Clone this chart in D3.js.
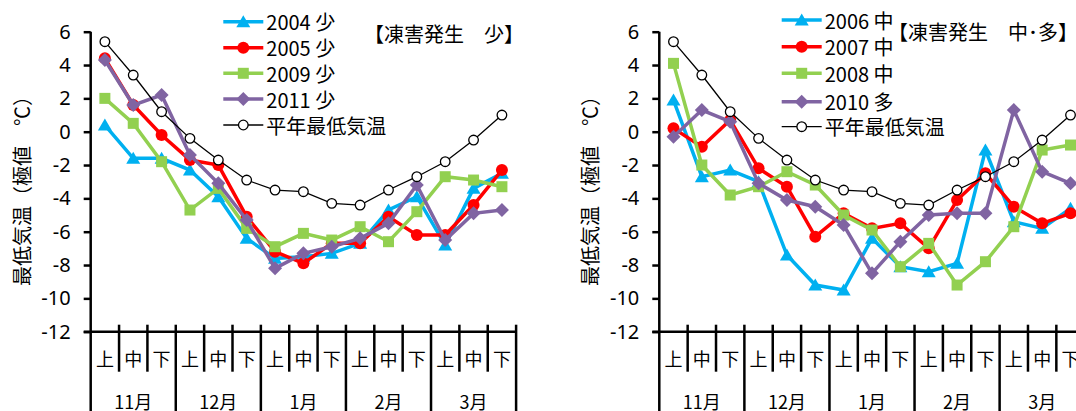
<!DOCTYPE html>
<head>
  <meta charset="utf-8">
  <script src="https://d3js.org/d3.v7.min.js"></script>
  <style>
    body { margin:0; padding:0; background:#fff; }
    text { font-family: "Noto Sans CJK JP", "Noto Sans", sans-serif; fill:#000; }
  </style>
</head>
<body>
  <svg id="chart" width="1076" height="411"></svg>
  <script>
    // categories
    var months = ["11月", "12月", "1月", "2月", "3月"];
    var thirds = ["上", "中", "下"];
    var yTicks = [-12, -10, -8, -6, -4, -2, 0, 2, 4, 6];

    // 平年最低気温
    var normal = [5.4, 3.4, 1.2, -0.4, -1.7, -2.9, -3.5, -3.6, -4.3, -4.4, -3.5, -2.7, -1.8, -0.5, 1.0];

    // left panel: 凍害発生 少
    var y2004 = [0.4, -1.6, -1.6, -2.3, -3.9, -6.4, -7.6, -7.5, -7.3, -6.7, -4.7, -3.9, -6.8, -3.4, -2.5];
    var y2005 = [4.4, 1.6, -0.2, -1.7, -2.0, -5.1, -7.2, -7.9, -6.7, -6.7, -5.1, -6.2, -6.2, -4.4, -2.3];
    var y2009 = [2.0, 0.5, -1.8, -4.7, -3.4, -5.8, -6.9, -6.1, -6.5, -5.7, -6.6, -4.8, -2.7, -2.9, -3.3];
    var y2011 = [4.3, 1.6, 2.2, -1.4, -3.1, -5.3, -8.2, -7.3, -6.9, -6.4, -5.5, -3.2, -6.5, -4.9, -4.7];

    // right panel: 凍害発生 中・多
    var y2006 = [1.9, -2.7, -2.3, -3.0, -7.4, -9.2, -9.5, -6.4, -8.1, -8.4, -7.9, -1.1, -5.4, -5.8, -4.6];
    var y2007 = [0.2, -0.9, 0.7, -2.2, -3.3, -6.3, -4.9, -5.8, -5.5, -7.0, -4.1, -2.5, -4.5, -5.5, -4.9];
    var y2008 = [4.1, -2.0, -3.8, -3.3, -2.4, -3.2, -5.0, -5.9, -8.1, -6.7, -9.2, -7.8, -5.7, -1.1, -0.8];
    var y2010 = [-0.3, 1.3, 0.6, -3.1, -4.1, -4.5, -5.6, -8.5, -6.6, -5.0, -4.9, -4.9, 1.3, -2.4, -3.1];

    var svg = d3.select("#chart");
    var bw = 28.36;
    var y = d3.scaleLinear().domain([-12, 6]).range([331.7, 31.7]);

    // marker shapes, centred on their box like Excel does
    function markerPath(type) {
      if (type == "triangle") return "M0,-6.5L7,5.5L-7,5.5Z";
      if (type == "square") return "M-5.5,-5.5H5.5V5.5H-5.5Z";
      if (type == "diamond") return "M0,-7L7,0L0,7L-7,0Z";
      return d3.arc()({innerRadius: 0, outerRadius: 6, startAngle: 0, endAngle: 2 * Math.PI});
    }

    function drawPanel(ox, series, legX, titleX, titleY, title) {
      var cats = d3.range(15).map(function(i) { return months[Math.floor(i / 3)] + thirds[i % 3]; });
      var x = d3.scaleBand().domain(cats).range([ox, ox + 15 * bw]);
      var g = svg.append("g");

      // y axis
      var ya = g.append("g").attr("transform", "translate(" + ox + ",0)")
        .call(d3.axisLeft(y).tickValues(yTicks).tickSize(7).tickPadding(13)
          .tickFormat(function(d) { return String(d); }));
      ya.select(".domain").remove();
      ya.selectAll("line").attr("stroke", "#000").attr("stroke-width", 2.5);
      ya.selectAll("text").style("font-family", "'Noto Sans', sans-serif").style("font-size", "20px");

      g.append("line").attr("x1", ox).attr("x2", ox).attr("y1", y(6)).attr("y2", 411)
        .attr("stroke", "#000").attr("stroke-width", 2.5);
      g.append("line").attr("x1", ox - 7).attr("x2", ox + 15 * bw).attr("y1", y(-12)).attr("y2", y(-12))
        .attr("stroke", "#000").attr("stroke-width", 2.5);

      // category separators
      g.selectAll(".sep").data(d3.range(1, 16)).enter().append("line")
        .attr("x1", function(i) { return ox + i * bw; })
        .attr("x2", function(i) { return ox + i * bw; })
        .attr("y1", y(-12) - 7)
        .attr("y2", function(i) { return i % 3 == 0 ? 411 : 371.7; })
        .attr("stroke", "#000").attr("stroke-width", 2.5);

      g.selectAll(".sub").data(cats).enter().append("text")
        .attr("x", function(c) { return x(c) + bw / 2; })
        .attr("y", 357.7).attr("text-anchor", "middle").attr("dominant-baseline", "central")
        .style("font-size", "18px")
        .text(function(c, i) { return thirds[i % 3]; });

      g.selectAll(".mon").data(months).enter().append("text")
        .attr("x", function(m, i) { return ox + (i * 3 + 1.5) * bw; })
        .attr("y", 400.5).attr("text-anchor", "middle").attr("dominant-baseline", "central")
        .style("font-size", "18px")
        .text(function(m) { return m; });

      // axis title
      g.append("text")
        .attr("transform", "translate(" + (ox - 69.5) + ",186) rotate(-90)")
        .attr("text-anchor", "middle").attr("dominant-baseline", "central")
        .style("font-size", "20px")
        .text("最低気温（極値　℃）");

      // series
      var line = d3.line().x(function(v, i) { return x(cats[i]) + bw / 2; }).y(function(v) { return y(v); });
      series.forEach(function(s) {
        var sg = g.append("g");
        sg.append("path").attr("d", line(s.values)).attr("fill", "none")
          .attr("stroke", s.color).attr("stroke-width", s.width);
        sg.selectAll("path.m").data(s.values).enter().append("path").attr("class", "m")
          .attr("transform", function(v, i) { return "translate(" + (x(cats[i]) + bw / 2) + "," + y(v) + ")"; })
          .attr("d", s.marker == "open" ? d3.arc()({innerRadius: 0, outerRadius: 4.8, startAngle: 0, endAngle: 2 * Math.PI}) : markerPath(s.marker))
          .attr("fill", s.marker == "open" ? "#fff" : s.color)
          .attr("stroke", s.marker == "open" ? "#000" : "none")
          .attr("stroke-width", 1.3);
      });

      // legend
      var lg = g.append("g");
      series.forEach(function(s, k) {
        var ly = s.legY;
        lg.append("line").attr("x1", legX).attr("x2", legX + 40).attr("y1", ly).attr("y2", ly)
          .attr("stroke", s.color).attr("stroke-width", s.width);
        lg.append("path").attr("transform", "translate(" + (legX + 20) + "," + ly + ")")
          .attr("d", s.marker == "open" ? d3.arc()({innerRadius: 0, outerRadius: 4.8, startAngle: 0, endAngle: 2 * Math.PI}) : markerPath(s.marker))
          .attr("fill", s.marker == "open" ? "#fff" : s.color)
          .attr("stroke", s.marker == "open" ? "#000" : "none")
          .attr("stroke-width", 1.3);
        lg.append("text").attr("x", legX + 43).attr("y", ly).attr("dominant-baseline", "central")
          .style("font-size", "20px").text(s.name);
      });

      g.append("text").attr("x", titleX).attr("y", titleY).attr("dominant-baseline", "central")
        .style("font-size", "20px").text(title);
    }

    drawPanel(90.7, [
      {name: "2004 少", values: y2004, color: "#00B0F0", marker: "triangle", width: 3.5, legY: 21.7},
      {name: "2005 少", values: y2005, color: "#FF0000", marker: "circle", width: 3.5, legY: 47.7},
      {name: "2009 少", values: y2009, color: "#92D050", marker: "square", width: 3.5, legY: 73.3},
      {name: "2011 少", values: y2011, color: "#8064A2", marker: "diamond", width: 3.5, legY: 99},
      {name: "平年最低気温", values: normal, color: "#000", marker: "open", width: 1.3, legY: 125}
    ], 223.3, 364, 33.3, "【凍害発生　少】");

    drawPanel(659.3, [
      {name: "2006 中", values: y2006, color: "#00B0F0", marker: "triangle", width: 3.5, legY: 20},
      {name: "2007 中", values: y2007, color: "#FF0000", marker: "circle", width: 3.5, legY: 46.7},
      {name: "2008 中", values: y2008, color: "#92D050", marker: "square", width: 3.5, legY: 73.3},
      {name: "2010 多", values: y2010, color: "#8064A2", marker: "diamond", width: 3.5, legY: 101.7},
      {name: "平年最低気温", values: normal, color: "#000", marker: "open", width: 1.3, legY: 126.7}
    ], 781.7, 888, 31.7, "【凍害発生　中･多】");
  </script>
</body>
